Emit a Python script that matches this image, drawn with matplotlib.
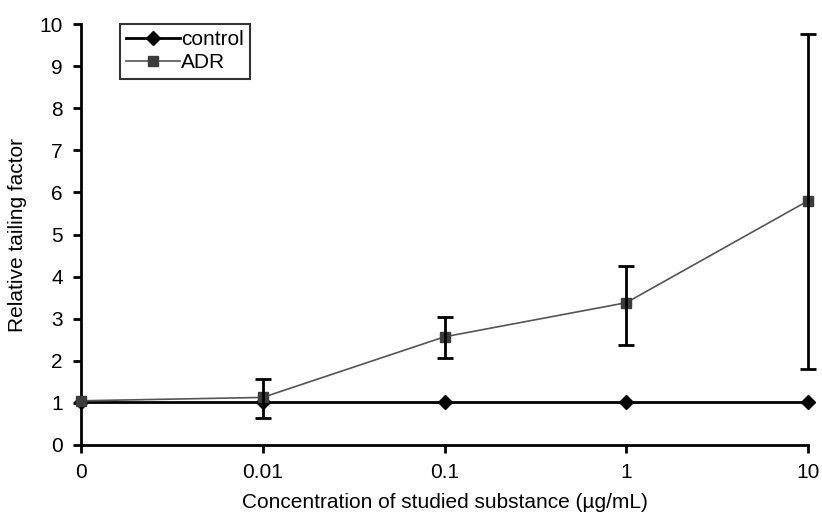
import numpy as np
import matplotlib.pyplot as plt

plt.rcParams['font.family'] = ['Liberation Sans', 'DejaVu Sans']

# data
conc_labels = ['0', '0.01', '0.1', '1', '10']
control = [1.03, 1.03, 1.03, 1.03, 1.03]
adr = [1.05, 1.13, 2.57, 3.38, 5.8]
adr_low = [1.05, 0.63, 2.06, 2.38, 1.8]
adr_high = [1.05, 1.57, 3.04, 4.25, 9.77]

x = np.arange(len(conc_labels))
adr = np.array(adr)
yerr = np.array([adr - np.array(adr_low), np.array(adr_high) - adr])

fig = plt.figure(figsize=(8.22, 5.17), dpi=100)
ax = fig.add_axes([81 / 822, 1 - 445 / 517, (808 - 81) / 822, (445 - 24) / 517])

ax.plot(x, control, color='black', lw=2, marker='D', ms=7, label='control', zorder=3,
        clip_on=False)
ax.plot(x, adr, color='#555555', lw=1.2, marker='s', ms=6.5, mfc='#3c3c3c', mec='#3c3c3c',
        label='ADR', zorder=4, clip_on=False)
# no error bar drawn at 0
eb = ax.errorbar(x[1:], adr[1:], yerr=yerr[:, 1:], fmt='none', ecolor='black', elinewidth=2,
                 capsize=6, capthick=2, zorder=5)
for art in eb.lines[1] + eb.lines[2]:
    art.set_clip_on(False)

ax.set_xlim(0, 4)
ax.set_ylim(0, 10)
ax.set_xticks(x)
ax.set_xticklabels(conc_labels)
ax.set_yticks(range(0, 11))
for s in ['top', 'right']:
    ax.spines[s].set_visible(False)
for s in ['left', 'bottom']:
    ax.spines[s].set_linewidth(2)
ax.tick_params(axis='both', direction='out', width=2, length=6, labelsize=15, pad=7)

ax.set_xlabel('Concentration of studied substance (\u00b5g/mL)', fontsize=15, labelpad=8)
ax.set_ylabel('Relative tailing factor', fontsize=15, labelpad=9)

leg = ax.legend(loc='upper left', bbox_to_anchor=(0.053, 1.0), fontsize=15, frameon=True,
                fancybox=False, edgecolor='black', handlelength=2.6, handletextpad=0.05,
                borderpad=0.3, labelspacing=0.2, borderaxespad=0)
leg.get_frame().set_linewidth(1.5)

fig.savefig('out.png', dpi=100)
